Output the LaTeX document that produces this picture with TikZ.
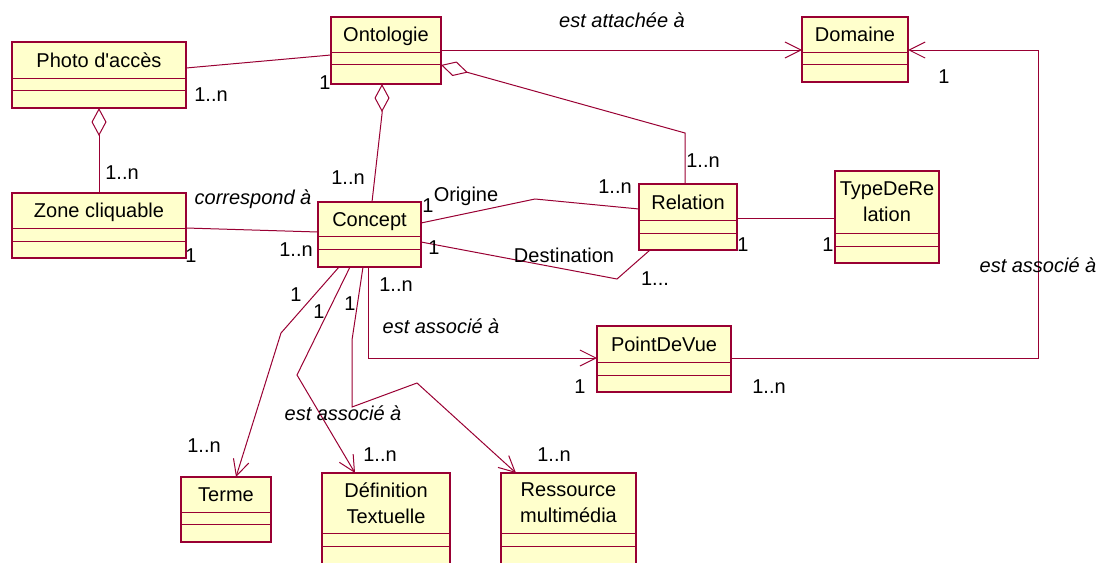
\documentclass[tikz,border=0pt]{standalone}
\usepackage{fontspec}
\setmainfont{Liberation Sans}
\usetikzlibrary{arrows.meta,calc}

\definecolor{umlred}{RGB}{153,0,51}
\definecolor{umlfill}{RGB}{255,255,204}

\tikzset{
  classbox/.style={rectangle, draw=umlred, fill=umlfill, line width=1.2pt,
                   inner sep=0pt, outer sep=0pt},
  classline/.style={draw=umlred, line width=1pt},
  classname/.style={font=\fontsize{20}{26}\selectfont, align=center, inner sep=0pt},
  oneline/.style={text height=14.3pt, text depth=0pt},
  link/.style={draw=umlred, line width=1pt},
  navig/.style={link, -{Straight Barb[length=16pt,width=16pt]}},
  aggr/.style={link, {Diamond[open,length=28pt,width=15pt]}-},
  mult/.style={font=\fontsize{20}{24}\selectfont, inner sep=0pt},
  role/.style={font=\fontsize{20}{24}\selectfont\itshape, inner sep=0pt},
}

% UML class: [title options] name, left, top, right, bottom, compartment rules, title
\newcommand\umlclass[9][oneline]{%
  \node[classbox, anchor=north west,
        minimum width={(#5-#3)*1pt}, minimum height={(#6-#4)*1pt}] (#2) at (#3,#4) {};
  \draw[classline] (#3,#7) -- (#5,#7) (#3,#8) -- (#5,#8);
  \node[classname, #1] (#2-title) at ({(#3+#5)/2},{(#4+#7)/2}) {#9};
}

\begin{document}
\begin{tikzpicture}[x=1pt,y=-1pt]
\useasboundingbox (0,0) rectangle (1115,562);
\clip (0,0) rectangle (1115,562);

% classes
\umlclass{photo}{12}{42}{186}{108}{78}{90}{Photo d\textquotesingle accès}
\umlclass{onto}{331}{17}{441}{84}{52}{64}{Ontologie}
\umlclass{domaine}{802}{17}{908}{82}{52}{64}{Domaine}
\umlclass{zone}{12}{193}{186}{258}{228}{241}{Zone cliquable}
\umlclass{concept}{318}{202}{421}{267}{236}{249}{Concept}
\umlclass{relation}{639}{184}{737}{250}{220}{233}{Relation}
\umlclass[]{typerel}{835}{171}{939}{263}{233}{246}{TypeDeRe\\lation}
\umlclass{pdv}{597}{326}{731}{392}{362}{375}{PointDeVue}
\umlclass{terme}{181}{477}{271}{542}{512}{524}{Terme}
\umlclass[]{defn}{322}{473}{450}{580}{533}{546}{Définition\\Textuelle}
\umlclass[]{ress}{501}{473}{636}{580}{533}{546}{Ressource\\multimédia}

% associations
\draw[link] ($(photo.north east)+(0,26)$) -- ($(onto.north west)+(0,38)$);
\draw[navig] ($(onto.north east)+(0,33)$) -- ($(domaine.north west)+(0,33)$);
\draw[aggr] ($(onto.north east)+(0,48)$) -- (685,133) -- ($(relation.north west)+(46,0)$);
\draw[aggr] ($(onto.south west)+(51,0)$) -- ++(0,30) -- ($(concept.north west)+(54,0)$);
\draw[aggr] ($(photo.south west)+(87,0)$) -- ($(zone.north west)+(87,0)$);
\draw[link] ($(zone.north east)+(0,35)$) -- ($(concept.north west)+(0,30)$);
\draw[link] ($(concept.north east)+(0,21)$) -- (535,199) -- ($(relation.north west)+(0,25)$);
\draw[link] ($(concept.north east)+(0,40)$) -- (617,279) -- ($(relation.south west)+(11,0)$);
\draw[link] ($(relation.north east)+(0,34)$) -- ($(typerel.north west)+(0,47)$);
\draw[navig] ($(concept.south west)+(50,0)$) |- ($(pdv.north west)+(0,32)$);
\draw[navig] ($(pdv.north east)+(0,32)$) -| (1038,50) -- ($(domaine.north east)+(0,33)$);
\draw[navig] ($(concept.south west)+(21,0)$) -- (281,333) -- ($(terme.north west)+(55,0)$);
\draw[navig] ($(concept.south west)+(32,0)$) -- (297,375) -- ($(defn.north west)+(33,0)$);
\draw[navig] ($(concept.south west)+(45,0)$) -- (352,340) -- (352,407) -- (417,383)
             -- ($(ress.north west)+(15,0)$);

% multiplicities
\node[mult] (m-photo-onto) at (211,95) {1..n};
\node[mult] (m-onto-photo) at (325,83) {1};
\node[mult] (m-zone-photo) at (122,173) {1..n};
\node[mult] (m-concept-onto) at (348,178) {1..n};
\node[mult] (m-zone-concept) at (191,256) {1};
\node[mult] (m-concept-zone) at (296,250) {1..n};
\node[mult] (m-orig) at (428,206) {1};
\node[mult] (m-dest) at (434,248) {1};
\node[mult] (m-rel-orig) at (615,187) {1..n};
\node[mult] (m-rel-onto) at (703,161) {1..n};
\node[mult] (m-rel-dest) at (655,279) {1...};
\node[mult] (m-rel-type) at (743,245) {1};
\node[mult] (m-type-rel) at (828,245) {1};
\node[mult] (m-domaine) at (944,77) {1};
\node[mult] (m-concept-pdv) at (396,285) {1..n};
\node[mult] (m-pdv-concept) at (580,387) {1};
\node[mult] (m-pdv-domaine) at (769,387) {1..n};
\node[mult] (m-c-terme) at (296,295) {1};
\node[mult] (m-c-defn) at (319,312) {1};
\node[mult] (m-c-ress) at (350,304) {1};
\node[mult] (m-terme) at (204,446) {1..n};
\node[mult] (m-defn) at (380,455) {1..n};
\node[mult] (m-ress) at (554,455) {1..n};

% role names
\node[role] (r-attache) at (622,20) {est attachée à};
\node[role] (r-correspond) at (253,199) {correspond à};
\node[mult] (r-origine) at (466,196) {Origine};
\node[mult] (r-destination) at (564,255) {Destination};
\node[role] (r-assoc-pdv) at (441,326) {est associé à};
\node[role] (r-assoc-dom) at (1038,265) {est associé à};
\node[role] (r-assoc-bas) at (343,413) {est associé à};
\end{tikzpicture}
\end{document}
